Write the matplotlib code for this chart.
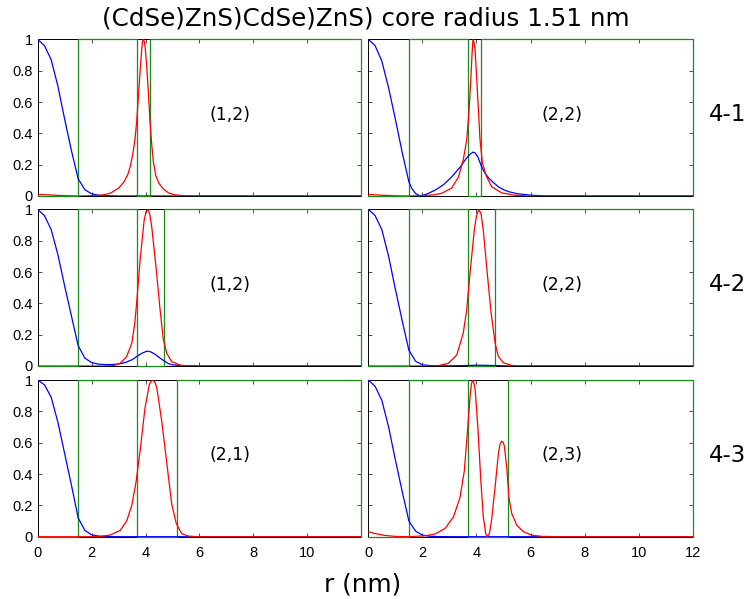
import matplotlib
matplotlib.use('Agg')
import matplotlib.pyplot as plt

TITLE = '(CdSe)ZnS)CdSe)ZnS) core radius 1.51 nm'
ROW_LABELS = ['4-1', '4-2', '4-3']
STATES = [['(1,2)', '(2,2)'], ['(1,2)', '(2,2)'], ['(2,1)', '(2,3)']]

# potential profile: core edge, inner shell edge, outer well edges per row
core_r = 1.51
shell_r = 3.67
well_r = [4.17, 4.67, 5.17]
r_max = 12

# electron (blue) densities
blue_x_41a = [0, 0.25, 0.5, 0.75, 1.0, 1.25, 1.5, 1.75, 2.0, 2.25, 2.5, 3.0, 12]
blue_y_41a = [1, 0.96, 0.87, 0.70, 0.49, 0.29, 0.11, 0.04, 0.014, 0.005, 0.002, 0.0, 0.0]

blue_x_41b = [0, 0.25, 0.5, 0.75, 1.0, 1.25, 1.5, 1.6, 1.75, 1.9, 2.05, 2.2, 2.5, 2.8, 3.1,
              3.4, 3.6, 3.75, 3.87, 3.95, 4.05, 4.17, 4.3, 4.45, 4.6, 4.8, 5.0, 5.2, 5.5,
              6.0, 6.5, 7.0, 12]
blue_y_41b = [1, 0.96, 0.86, 0.69, 0.49, 0.28, 0.09, 0.05, 0.015, 0.002, 0.006, 0.015, 0.04,
              0.075, 0.125, 0.185, 0.235, 0.265, 0.28, 0.275, 0.25, 0.195, 0.15, 0.115, 0.09,
              0.06, 0.04, 0.027, 0.015, 0.005, 0.001, 0.0, 0.0]

blue_x_42a = [0, 0.25, 0.5, 0.75, 1.0, 1.25, 1.5, 1.75, 2.0, 2.25, 2.5, 2.75, 3.0, 3.25,
              3.5, 3.67, 3.85, 4.05, 4.2, 4.35, 4.5, 4.67, 4.85, 5.0, 5.3, 6.0, 12]
blue_y_42a = [1, 0.96, 0.87, 0.71, 0.51, 0.32, 0.13, 0.05, 0.022, 0.012, 0.009, 0.009,
              0.013, 0.022, 0.04, 0.06, 0.08, 0.095, 0.09, 0.075, 0.055, 0.035, 0.015,
              0.008, 0.002, 0.0, 0.0]

blue_x_42b = [0, 0.25, 0.5, 0.75, 1.0, 1.25, 1.5, 1.75, 2.0, 2.3, 3.0, 3.6, 4.1, 4.6, 5.2, 12]
blue_y_42b = [1, 0.96, 0.87, 0.70, 0.49, 0.29, 0.10, 0.03, 0.008, 0.002, 0.001, 0.003,
              0.005, 0.003, 0.0, 0.0]

blue_x_43a = [0, 0.25, 0.5, 0.75, 1.0, 1.25, 1.5, 1.75, 2.0, 2.25, 2.5, 3.0, 12]
blue_y_43a = [1, 0.97, 0.89, 0.73, 0.53, 0.33, 0.12, 0.04, 0.012, 0.004, 0.001, 0.0, 0.0]

blue_x_43b = [0, 0.25, 0.5, 0.75, 1.0, 1.25, 1.5, 1.75, 2.0, 2.25, 2.5, 3.0, 12]
blue_y_43b = [1, 0.96, 0.87, 0.70, 0.49, 0.29, 0.10, 0.035, 0.01, 0.003, 0.001, 0.0, 0.0]

# hole (red) densities
red_x_41a = [0, 0.5, 1.0, 1.5, 2.0, 2.4, 2.7, 3.0, 3.2, 3.35, 3.45, 3.55, 3.62, 3.67, 3.73,
             3.8, 3.86, 3.89, 3.92, 3.95, 3.98, 4.04, 4.1, 4.17, 4.23, 4.29, 4.38, 4.5, 4.66,
             4.85, 5.1, 5.4, 5.8, 12]
red_y_41a = [0.01, 0.006, 0.002, 0.0, 0.002, 0.006, 0.018, 0.05, 0.09, 0.14, 0.2, 0.29,
             0.38, 0.47, 0.62, 0.8, 0.94, 0.985, 1.0, 0.99, 0.96, 0.84, 0.68, 0.47, 0.33,
             0.22, 0.13, 0.08, 0.045, 0.02, 0.007, 0.002, 0.0, 0.0]

red_x_41b = [0, 0.5, 1.0, 1.5, 2.0, 2.4, 2.71, 3.08, 3.33, 3.51, 3.64, 3.72, 3.8, 3.84,
             3.87, 3.91, 3.95, 4.03, 4.13, 4.22, 4.38, 4.56, 4.93, 5.43, 6.0, 12]
red_y_41b = [0.01, 0.005, 0.001, 0.0, 0.002, 0.007, 0.017, 0.05, 0.12, 0.23, 0.36, 0.53,
             0.78, 0.92, 1.0, 0.98, 0.93, 0.68, 0.36, 0.21, 0.12, 0.06, 0.02, 0.004, 0.0, 0.0]

red_x_42a = [0, 2.5, 2.81, 3.06, 3.3, 3.49, 3.6, 3.67, 3.8, 3.95, 4.02, 4.08, 4.15, 4.23,
             4.39, 4.54, 4.66, 4.79, 4.97, 5.28, 5.6, 12]
red_y_42a = [0.0, 0.0, 0.002, 0.017, 0.06, 0.145, 0.27, 0.4, 0.68, 0.93, 0.985, 1.0, 0.975,
             0.89, 0.63, 0.36, 0.17, 0.08, 0.028, 0.006, 0.0, 0.0]

red_x_42b = [0, 2.3, 2.59, 2.96, 3.27, 3.51, 3.64, 3.76, 3.92, 4.0, 4.09, 4.17, 4.25, 4.4,
             4.54, 4.69, 4.81, 5.0, 5.3, 5.6, 12]
red_y_42b = [0.0, 0.0, 0.002, 0.017, 0.07, 0.21, 0.36, 0.59, 0.87, 0.96, 1.0, 0.97, 0.87,
             0.59, 0.34, 0.145, 0.06, 0.02, 0.004, 0.0, 0.0]

red_x_43a = [0, 2.0, 2.31, 2.68, 3.06, 3.3, 3.49, 3.65, 3.8, 3.98, 4.14, 4.2, 4.27, 4.35,
             4.42, 4.6, 4.79, 4.97, 5.14, 5.34, 5.59, 5.9, 12]
red_y_43a = [0.0, 0.0, 0.002, 0.01, 0.04, 0.1, 0.2, 0.35, 0.55, 0.82, 0.97, 0.99, 1.0,
             0.985, 0.95, 0.74, 0.47, 0.21, 0.085, 0.02, 0.004, 0.0, 0.0]

red_x_43b = [0, 0.25, 0.62, 0.99, 1.5, 2.1, 2.47, 2.84, 3.15, 3.39, 3.55, 3.67, 3.77, 3.81,
             3.85, 3.9, 3.95, 4.05, 4.16, 4.25, 4.34, 4.4, 4.48, 4.56, 4.69, 4.81, 4.87,
             4.93, 4.98, 5.03, 5.12, 5.2, 5.3, 5.49, 5.73, 6.04, 6.41, 7.0, 12]
red_y_43b = [0.032, 0.02, 0.008, 0.002, 0.0, 0.006, 0.017, 0.053, 0.127, 0.25, 0.42, 0.68,
             0.91, 0.97, 1.0, 0.985, 0.94, 0.70, 0.36, 0.13, 0.02, 0.0, 0.02, 0.11, 0.32,
             0.53, 0.59, 0.61, 0.605, 0.58, 0.44, 0.25, 0.15, 0.074, 0.032, 0.01, 0.002,
             0.0, 0.0]

blue_x = [[blue_x_41a, blue_x_41b], [blue_x_42a, blue_x_42b], [blue_x_43a, blue_x_43b]]
blue_y = [[blue_y_41a, blue_y_41b], [blue_y_42a, blue_y_42b], [blue_y_43a, blue_y_43b]]
red_x = [[red_x_41a, red_x_41b], [red_x_42a, red_x_42b], [red_x_43a, red_x_43b]]
red_y = [[red_y_41a, red_y_41b], [red_y_42a, red_y_42b], [red_y_43a, red_y_43b]]

GREEN = '#1a8c1a'
TICK_FONT = 'Liberation Sans'

fig = plt.figure(figsize=(7.47, 5.99), dpi=100)

lefts = [0.0505, 0.4931]
widths = [0.4329, 0.4343]
bottoms = [0.6728, 0.3890, 0.1040]
height = 0.2615

for i in range(3):
    # step potential for this row
    pot_x = [0, core_r, core_r, shell_r, shell_r, well_r[i], well_r[i], r_max, r_max]
    pot_y = [0, 0, 1, 1, 0, 0, 1, 1, 0]
    for j in range(2):
        ax = fig.add_axes([lefts[j], bottoms[i], widths[j], height])
        ax.plot(pot_x, pot_y, color=GREEN, lw=0.9, clip_on=False, zorder=3)
        ax.plot(blue_x[i][j], blue_y[i][j], color='#0000ff', lw=0.9, zorder=4)
        ax.plot(red_x[i][j], red_y[i][j], color='#ff0000', lw=0.9, zorder=5)
        ax.set_xlim(0, 12)
        ax.set_ylim(0, 1)
        ax.set_xticks(range(0, 13, 2))
        ax.set_yticks([0, 0.2, 0.4, 0.6, 0.8, 1])
        ax.tick_params(direction='in', length=3, width=0.6, top=True, right=True,
                       labelsize=10.5, color='#333333')
        ax.tick_params(axis='x', pad=6.5)
        ax.tick_params(axis='y', pad=3.5)
        for s in ax.spines.values():
            s.set_linewidth(0.7)
        if j == 0:
            ax.set_yticklabels(['0', '0.2', '0.4', '0.6', '0.8', '1'], fontfamily=TICK_FONT)
        else:
            ax.set_yticklabels([])
        if i == 2:
            labs = ['0', '2', '4', '6', '8', '10', '12']
            if j == 0:
                labs[-1] = ''
            ax.set_xticklabels(labs, fontfamily=TICK_FONT)
        else:
            ax.set_xticklabels([])
        ax.text(7.15, 0.52, STATES[i][j], ha='center', va='center', fontsize=12.5)
    fig.text(0.9485, bottoms[i] + height / 2 + 0.005, ROW_LABELS[i], ha='left',
             va='center', fontsize=16.5)

fig.text(0.49, 0.969, TITLE, ha='center', va='center', fontsize=17.7)
fig.text(0.485, 0.025, 'r (nm)', ha='center', va='center', fontsize=17.8)

fig.savefig('out.png', dpi=100)
